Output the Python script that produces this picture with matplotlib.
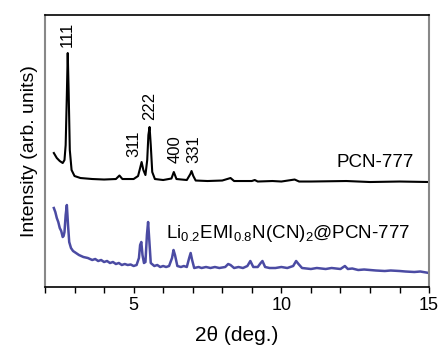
import matplotlib
matplotlib.use("Agg")
import matplotlib.pyplot as plt
from matplotlib.ticker import MultipleLocator

plt.rcParams['font.family'] = ['Liberation Sans', 'DejaVu Sans']
plt.rcParams['mathtext.fontset'] = 'custom'
plt.rcParams['mathtext.rm'] = 'Liberation Sans'
plt.rcParams['mathtext.it'] = 'Liberation Sans'

# PCN-777 pattern (2theta, intensity arb.)
pcn_x = [2.30, 2.40, 2.50, 2.60, 2.66, 2.70, 2.74, 2.77, 2.80, 2.84, 2.90, 3.00, 3.20, 3.60,
         4.00, 4.40, 4.52, 4.62, 5.00, 5.15, 5.22, 5.27, 5.33, 5.40, 5.46, 5.50, 5.54, 5.58,
         5.63, 5.72, 6.00, 6.28, 6.36, 6.45, 6.80, 6.92, 6.96, 7.02, 7.10, 7.50, 8.00, 8.28,
         8.40, 9.00, 9.10, 9.20, 9.70, 10.00, 10.45, 10.60, 11.00, 12.20, 13.00, 14.00, 15.00]
pcn_y = [134, 129, 126, 124, 127, 142, 192, 234, 197, 137, 117, 111, 109, 108,
         107.5, 108, 111.5, 108, 108, 111, 119, 125, 117, 112, 127, 152, 160, 142,
         115, 108, 107, 108.5, 115, 108, 107, 113, 116, 111, 106.5, 106, 106.5, 109,
         106, 106, 107, 105.5, 106, 105.5, 107.5, 105.5, 105.5, 106, 105, 105.5, 105]

# Li0.2EMI0.8N(CN)2@PCN-777 pattern
li_x = [2.30, 2.35, 2.40, 2.45, 2.50, 2.55, 2.60, 2.63, 2.66, 2.70, 2.74, 2.78, 2.82, 2.88,
        2.95, 3.05, 3.15, 3.30, 3.45, 3.60, 3.70, 3.80, 3.90, 4.00, 4.10, 4.20, 4.30, 4.40,
        4.50, 4.60, 4.70, 4.80, 4.90, 5.00, 5.10,
        5.18, 5.22, 5.26, 5.30, 5.35, 5.40, 5.45, 5.49, 5.53, 5.58, 5.70, 5.80, 5.90, 6.00,
        6.10, 6.20, 6.30, 6.35, 6.40, 6.48, 6.60, 6.70, 6.80, 6.88, 6.93, 6.98, 7.05, 7.20,
        7.30, 7.45, 7.60, 7.75, 7.90, 8.10,
        8.20, 8.28, 8.40, 8.55, 8.70, 8.85, 8.95, 9.05, 9.20, 9.30, 9.36, 9.45, 9.60, 9.80,
        10.00, 10.20, 10.40, 10.50, 10.58, 10.70, 10.85, 11.00, 11.20, 11.50, 11.70, 12.00,
        12.15, 12.25, 12.40, 12.60, 12.80, 13.00, 13.20, 13.50, 13.70, 14.00, 14.20, 14.50,
        14.70, 15.00]
li_y = [79, 75, 69, 65, 59, 56, 50, 51, 55, 72, 82, 62, 45, 39,
        36, 34, 32, 30, 29, 27, 28, 26, 27, 25, 26, 24, 25, 23,
        24, 22, 23, 22, 22.5, 21, 22,
        29, 42, 45, 32, 24, 25, 52, 65, 47, 24, 21, 22, 20, 21,
        20, 21, 29, 37, 32, 21, 20, 21, 20, 29, 34, 27, 19, 20,
        19, 20, 19, 20, 19, 20,
        23, 22, 19, 20, 19, 21, 26, 20, 20, 24, 26, 20, 19, 19,
        20, 19, 21, 26, 23, 19, 18.5, 18, 19, 18, 19, 18,
        21, 18, 18.5, 17, 17.5, 17, 16.5, 16, 16.5, 16, 15.5, 15,
        15.5, 14]

peak_labels = ['111', '311', '222', '400', '331']
peak_pos = [2.77, 5.00, 5.54, 6.42, 7.03]
peak_text_y = [240, 130, 167, 124, 124]

fig = plt.figure(figsize=(4.41, 3.5), dpi=100)
ax = fig.add_axes([0.102, 0.18, 0.871, 0.777])

ax.plot(pcn_x, pcn_y, color='black', lw=1.5)
ax.plot(li_x, li_y, color='#4b4ba3', lw=1.8)

for lab, px, py in zip(peak_labels, peak_pos, peak_text_y):
    ax.text(px, py, lab, rotation=90, ha='center', va='bottom', fontsize=12)

ax.text(14.5, 125, 'PCN-777', ha='right', va='center', fontsize=13.5)
ax.text(6.1, 54, r'Li$_{0.2}$EMI$_{0.8}$N(CN)$_2$@PCN-777', ha='left', va='center', fontsize=13.5)

ax.set_xlim(2, 15)
ax.set_ylim(0, 272)
ax.xaxis.set_major_locator(MultipleLocator(5))
ax.xaxis.set_minor_locator(MultipleLocator(1))
ax.tick_params(axis='x', which='both', direction='out', length=4, width=1, labelsize=13, top=False)
ax.set_yticks([])

for s in ['top', 'bottom']:
    ax.spines[s].set_color('black')
    ax.spines[s].set_linewidth(1.2)
for s in ['left', 'right']:
    ax.spines[s].set_color('#888888')
    ax.spines[s].set_linewidth(1.5)

ax.set_xlabel('2θ (deg.)', fontsize=15, labelpad=8)
ax.set_ylabel('Intensity (arb. units)', fontsize=14, labelpad=5)

fig.savefig('out.png', dpi=100)
